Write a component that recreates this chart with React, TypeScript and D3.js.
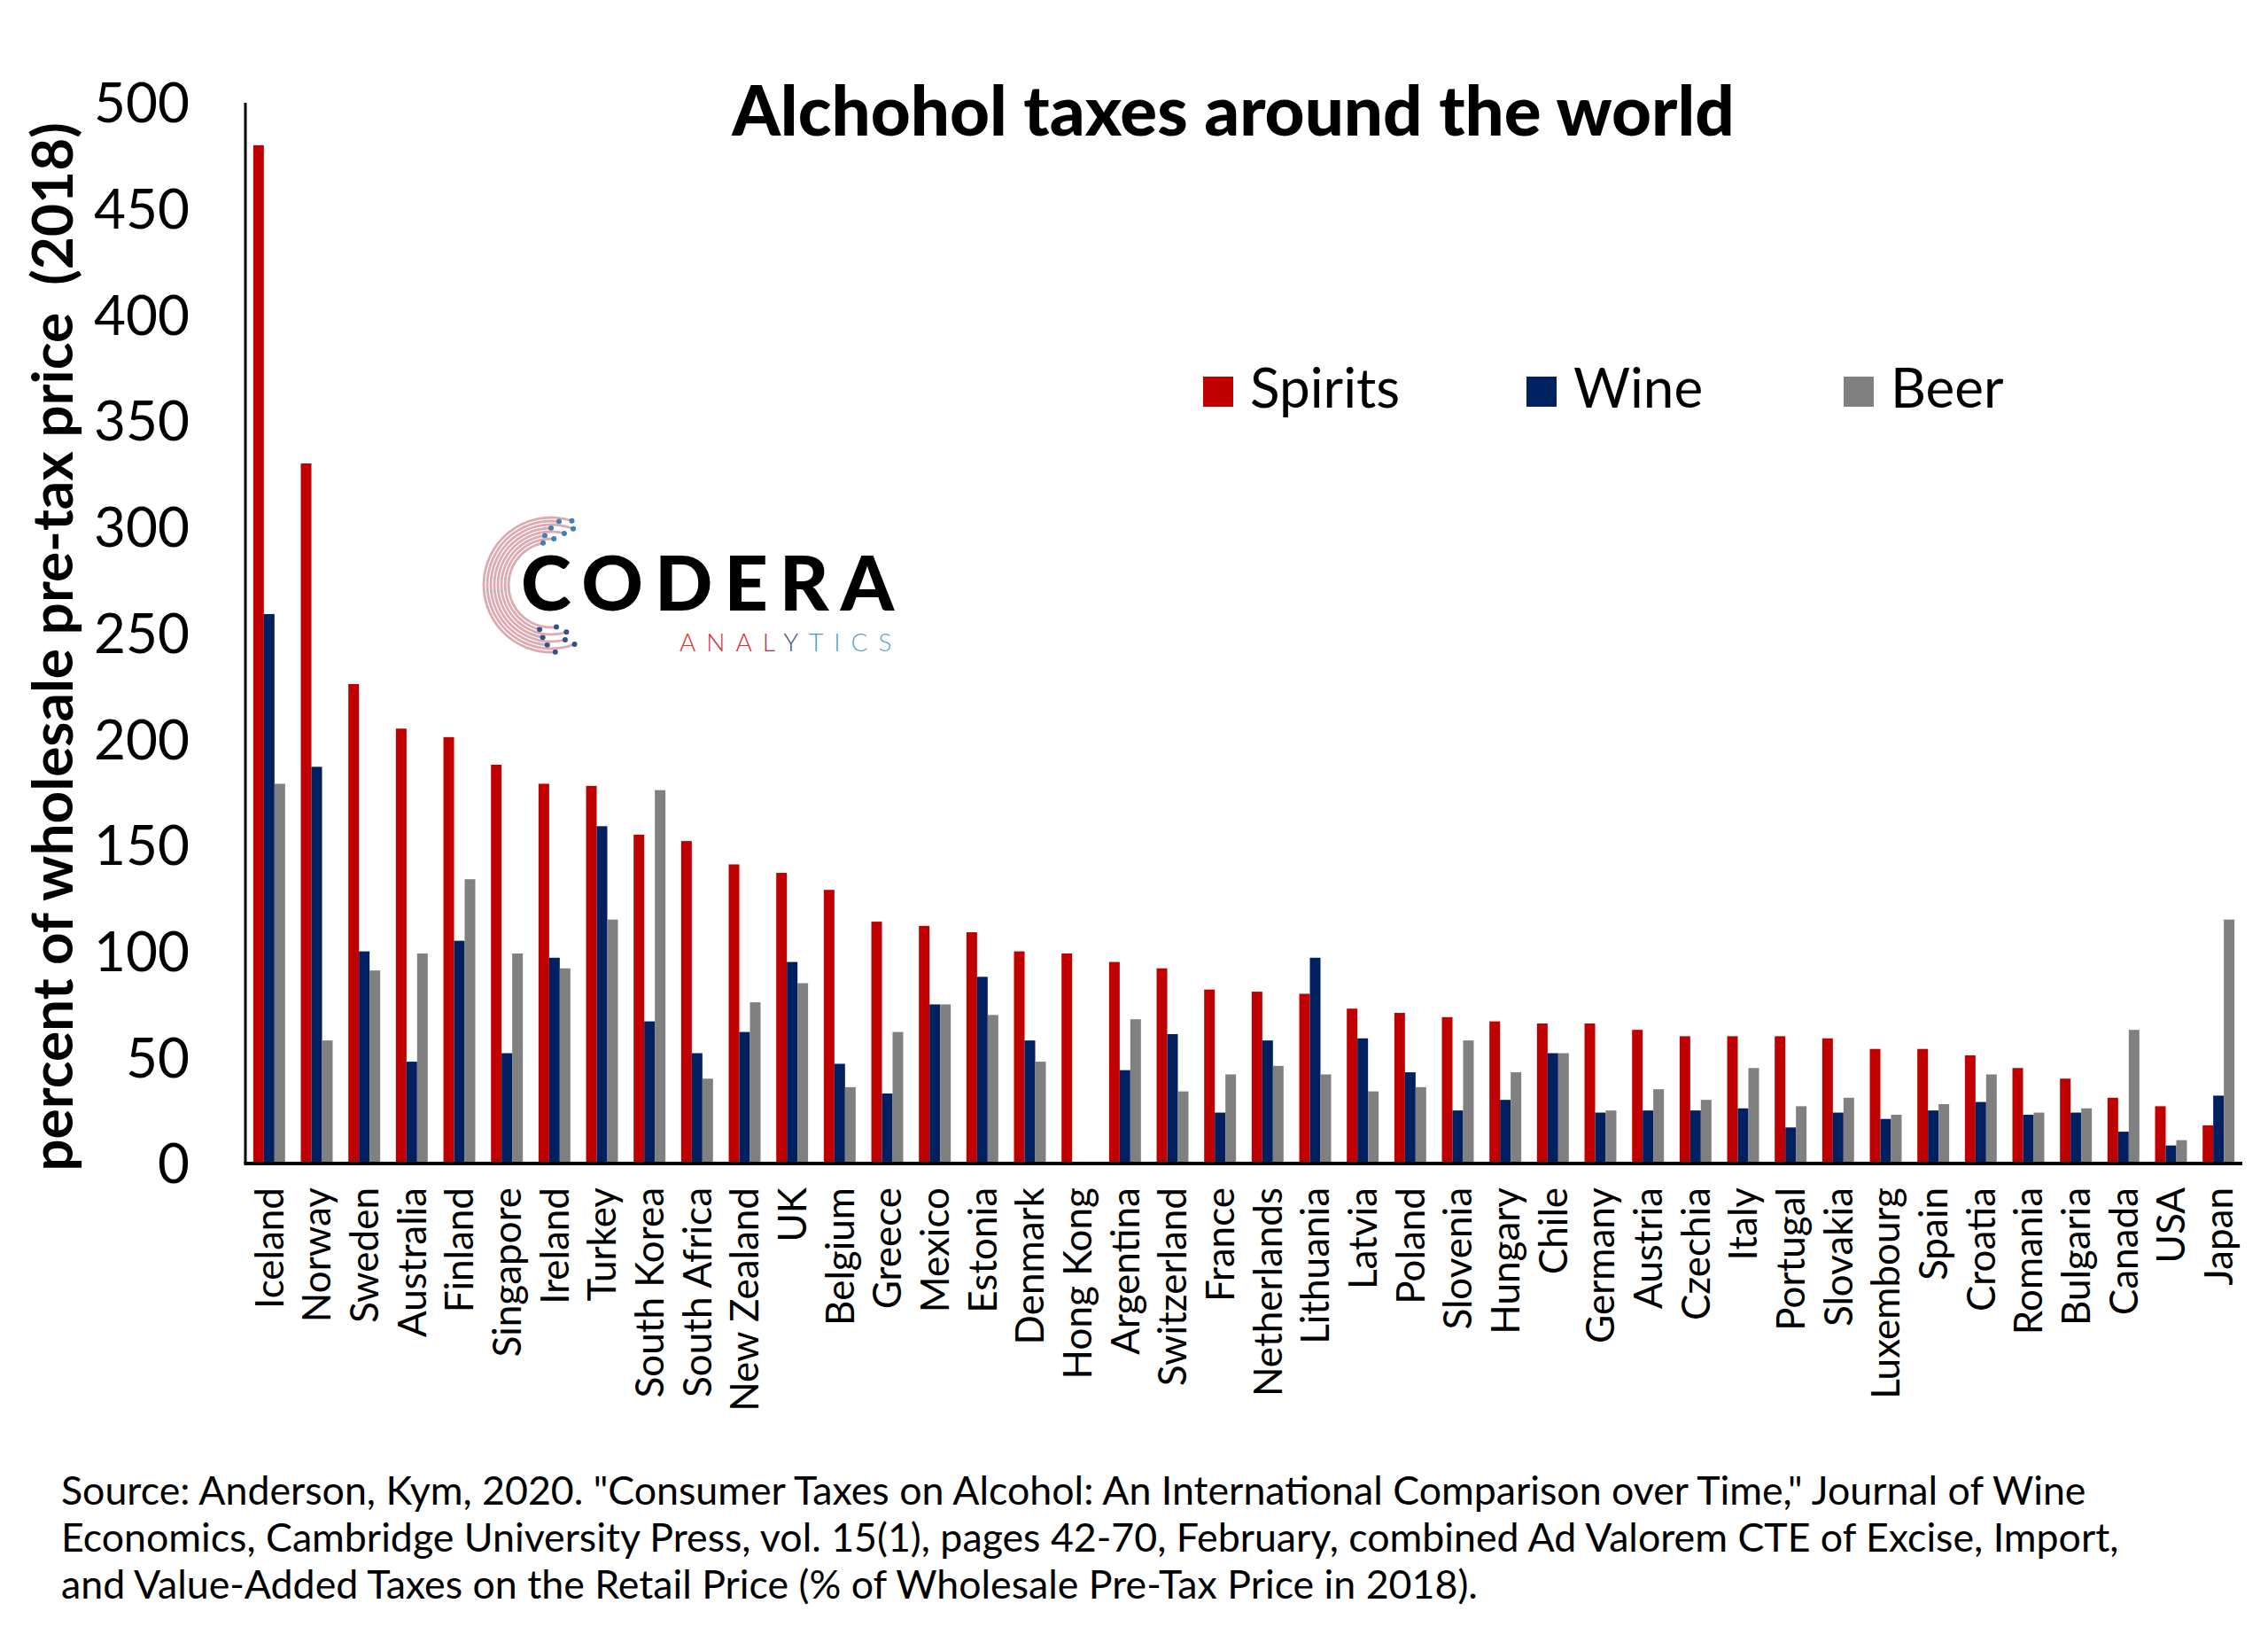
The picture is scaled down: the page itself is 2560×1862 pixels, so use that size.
import { useMemo } from "react";
import * as d3 from "d3";

const countries = [
  "Iceland", "Norway", "Sweden", "Australia", "Finland", "Singapore", "Ireland",
  "Turkey", "South Korea", "South Africa", "New Zealand", "UK", "Belgium", "Greece",
  "Mexico", "Estonia", "Denmark", "Hong Kong", "Argentina", "Switzerland", "France",
  "Netherlands", "Lithuania", "Latvia", "Poland", "Slovenia", "Hungary", "Chile",
  "Germany", "Austria", "Czechia", "Italy", "Portugal", "Slovakia", "Luxembourg",
  "Spain", "Croatia", "Romania", "Bulgaria", "Canada", "USA", "Japan",
];

const spirits = [
  480, 330, 226, 205, 201, 188, 179, 178, 155, 152, 141, 137, 129, 114, 112, 109,
  100, 99, 95, 92, 82, 81, 80, 73, 71, 69, 67, 66, 66, 63, 60, 60, 60, 59, 54, 54,
  51, 45, 40, 31, 27, 18,
];

const wine = [
  259, 187, 100, 48, 105, 52, 97, 159, 67, 52, 62, 95, 47, 33, 75, 88, 58, 0, 44,
  61, 24, 58, 97, 59, 43, 25, 30, 52, 24, 25, 25, 26, 17, 24, 21, 25, 29, 23, 24,
  15, 8.5, 32,
];

const beer = [
  179, 58, 91, 99, 134, 99, 92, 115, 176, 40, 76, 85, 36, 62, 75, 70, 48, 0, 68,
  34, 42, 46, 42, 34, 36, 58, 43, 52, 25, 35, 30, 45, 27, 31, 23, 28, 42, 24, 26,
  63, 11, 115,
];

const seriesNames = ["Spirits", "Wine", "Beer"];
const seriesColors = ["#C00000", "#002060", "#808080"];

const sourceLines = [
  'Source: Anderson, Kym, 2020. "Consumer Taxes on Alcohol: An International Comparison over Time," Journal of Wine',
  "Economics, Cambridge University Press, vol. 15(1), pages 42-70, February, combined Ad Valorem CTE of Excise, Import,",
  "and Value-Added Taxes on the Retail Price (% of Wholesale Pre-Tax Price in 2018).",
];

const W = 2560;
const H = 1862;
const plot = { left: 277, right: 2531, top: 116, bottom: 1313 };
const font = "Lato, 'Open Sans', sans-serif";

// codera logo: concentric partial rings drawn with d3.arc
const Logo = () => {
  const cx = 622;
  const cy = 660;
  const rings = [
    { r: 76, a0: -1.02, a1: 0.1 },
    { r: 72, a0: -1.12, a1: 0.04 },
    { r: 68, a0: -0.98, a1: 0.12 },
    { r: 64, a0: -1.08, a1: 0.0 },
    { r: 60, a0: -0.95, a1: 0.08 },
    { r: 56, a0: -1.1, a1: -0.04 },
    { r: 52, a0: -0.92, a1: 0.02 },
    { r: 48, a0: -1.04, a1: -0.06 },
  ];
  const arc = d3.arc<any>();
  return (
    <g>
      <defs>
        <linearGradient id="logoGrad" x1={cx - 78} x2={cx + 30} y1={0} y2={0} gradientUnits="userSpaceOnUse">
          <stop offset="0" stopColor="#dcaab0" />
          <stop offset="0.25" stopColor="#d2232a" />
          <stop offset="0.6" stopColor="#7a3566" />
          <stop offset="0.85" stopColor="#2f6aa6" />
          <stop offset="1" stopColor="#6ab8de" />
        </linearGradient>
        <linearGradient id="analyticsGrad" x1={767} x2={1010} y1={0} y2={0} gradientUnits="userSpaceOnUse">
          <stop offset="0" stopColor="#d9363e" />
          <stop offset="0.38" stopColor="#c8303c" />
          <stop offset="0.5" stopColor="#3b4a7c" />
          <stop offset="0.62" stopColor="#4f8fc0" />
          <stop offset="1" stopColor="#5aa8d2" />
        </linearGradient>
      </defs>
      {rings.map((d, i) => {
        const a0 = Math.PI * d.a0;
        const a1 = Math.PI * d.a1;
        const path = arc({
          innerRadius: d.r - 1.4,
          outerRadius: d.r + 1.4,
          startAngle: a0,
          endAngle: a1,
        });
        return (
          <g key={i} transform={`translate(${cx},${cy})`}>
            <path d={path} fill="url(#logoGrad)" />
            <circle cx={d.r * Math.sin(a1)} cy={-d.r * Math.cos(a1)} r={3} fill="#3f7fb4" />
            <circle cx={d.r * Math.sin(a0)} cy={-d.r * Math.cos(a0)} r={3} fill="#34508a" />
          </g>
        );
      })}
      <text x={588} y={689} fontFamily={font} fontWeight={900} fontSize={86} letterSpacing={13} fill="#000">
        CODERA
      </text>
      <text x={767} y={735} fontFamily={font} fontWeight={300} fontSize={28} letterSpacing={12} fill="url(#analyticsGrad)">
        ANALYTICS
      </text>
    </g>
  );
};

const App = () => {
  const x0 = useMemo(
    () =>
      d3
        .scaleBand()
        .domain(countries)
        .range([plot.left, plot.right])
        .paddingInner(0.33)
        .paddingOuter(0.165),
    []
  );
  const x1 = useMemo(
    () => d3.scaleBand().domain(seriesNames).range([0, x0.bandwidth()]),
    [x0]
  );
  const y = useMemo(
    () => d3.scaleLinear().domain([0, 500]).range([plot.bottom, plot.top]),
    []
  );

  const rows = countries.map((c, i) => ({
    country: c,
    values: [spirits[i], wine[i], beer[i]],
  }));

  const legendX = [1358, 1723, 2081];

  return (
    <div style={{ position: "absolute", left: 0, top: 0, background: "#fff" }}>
      <svg width={W} height={H} style={{ display: "block" }}>
        <rect width={W} height={H} fill="#fff" />

        <text x={1392} y={153} textAnchor="middle" fontFamily={font} fontWeight={900} fontSize={78}>
          Alchohol taxes around the world
        </text>

        <Logo />

        {/* bars */}
        {rows.map((r) => (
          <g key={r.country} transform={`translate(${x0(r.country)},0)`}>
            {r.values.map((v, j) => (
              <rect
                key={j}
                x={x1(seriesNames[j])}
                y={y(v)}
                width={x1.bandwidth()}
                height={y(0) - y(v)}
                fill={seriesColors[j]}
              />
            ))}
          </g>
        ))}

        {/* axes */}
        <line x1={plot.left} x2={plot.left} y1={plot.top} y2={plot.bottom} stroke="#000" strokeWidth={3} />
        <line x1={plot.left - 1.5} x2={plot.right} y1={plot.bottom} y2={plot.bottom} stroke="#000" strokeWidth={4} />

        {y.ticks(10).map((t) => (
          <text key={t} x={214} y={y(t)} dy="0.36em" textAnchor="end" fontFamily={font} fontSize={62}>
            {t}
          </text>
        ))}

        {countries.map((c) => (
          <text
            key={c}
            transform={`translate(${(x0(c) ?? 0) + x0.bandwidth() / 2},1340) rotate(-90)`}
            dy="0.36em"
            textAnchor="end"
            fontFamily={font}
            fontSize={44}
          >
            {c}
          </text>
        ))}

        <text
          transform={`translate(82,730) rotate(-90)`}
          textAnchor="middle"
          fontFamily={font}
          fontWeight={700}
          fontSize={64}
        >
          {"percent of wholesale pre-tax price\u00a0\u00a0(2018)"}
        </text>

        {/* legend */}
        {seriesNames.map((s, i) => (
          <g key={s}>
            <rect x={legendX[i]} y={425} width={34} height={34} fill={seriesColors[i]} />
            <text x={legendX[i] + 53} y={460} fontFamily={font} fontSize={62}>
              {s}
            </text>
          </g>
        ))}

        {sourceLines.map((l, i) => (
          <text key={i} x={69} y={1698 + i * 53} fontFamily={font} fontSize={44.7}>
            {l}
          </text>
        ))}
      </svg>
    </div>
  );
};

export default App;
